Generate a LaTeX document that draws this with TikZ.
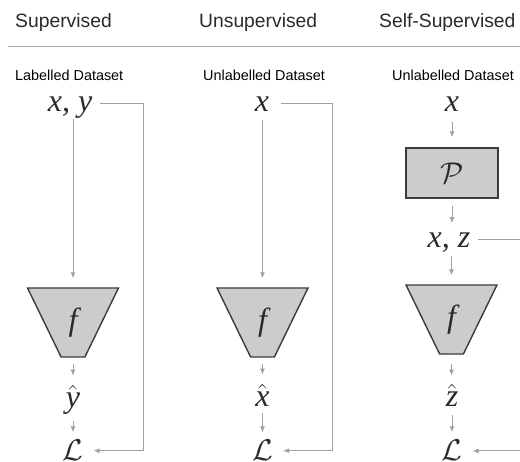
\RequirePackage{fix-cm}
\documentclass[tikz,border=0pt]{standalone}
\usepackage{fontspec}
\usetikzlibrary{shapes.geometric,arrows.meta}
\newfontfamily\headfont{Liberation Sans}
\newfontfamily\varfont{Liberation Serif}
\definecolor{wiregray}{HTML}{A0A0A0}
\definecolor{boxfill}{HTML}{CCCCCC}
\definecolor{boxline}{HTML}{3C3C3C}
\definecolor{inkc}{HTML}{2A2A2A}

\tikzset{
  heading/.style={font=\headfont\fontsize{19.3}{20}\selectfont, text=inkc, anchor=base west, inner sep=0pt},
  subheading/.style={font=\headfont\fontsize{14.4}{15}\selectfont, text=black, anchor=base west, inner sep=0pt},
  var/.style={font=\fontsize{32}{32}\selectfont\varfont\itshape, text=inkc, anchor=base, inner sep=0pt},
  loss/.style={font=\fontsize{30}{30}\selectfont, text=inkc, anchor=base, inner sep=0pt},
  net/.style={trapezium, trapezium stretches=true,
    trapezium left angle=113.15, trapezium right angle=113.15,
    minimum width=91pt, minimum height=69pt, inner sep=0pt,
    fill=boxfill, draw=boxline, line width=1.4pt,
    font=\fontsize{32}{32}\selectfont\varfont\itshape, text=inkc},
  augment/.style={rectangle, minimum width=92pt, minimum height=50pt, inner sep=0pt,
    fill=boxfill, draw=boxline, line width=1.4pt,
    font=\fontsize{30}{30}\selectfont, text=inkc},
  wire/.style={draw=wiregray, line width=1pt},
  arr/.style={wire, -{Latex[length=6pt,width=5pt]}},
}

\begin{document}
\begin{tikzpicture}[x=1pt, y=-1pt]
  \useasboundingbox (0,0) rectangle (520,462);

  % column headings and rule
  \node[heading] (h1) at (15,28) {Supervised};
  \node[heading] (h2) at (199,28) {Unsupervised};
  \node[heading] (h3) at (379,28) {Self-Supervised};
  \draw[draw=black!32, line width=1.4pt] (8,46.5) -- (520,46.5);

  \node[subheading] (d1) at (15,81) {Labelled Dataset};
  \node[subheading] (d2) at (203,81) {Unlabelled Dataset};
  \node[subheading] (d3) at (392,81) {Unlabelled Dataset};

  % ---------- supervised ----------
  \node[var] (xy1) at (70,112) {x, y};
  \node[net] (f1) at (73,322.5) {f};
  \node[var] (yh) at (73,408) {$\hat{\hbox{\varfont\itshape y}}$};
  \node[loss] (L1) at (73,461) {$\mathcal{L}$};
  \coordinate (c1) at (143,104);

  \draw[arr, shorten >=9pt] (xy1.south -| f1.north) -- (f1.north);
  \draw[arr, shorten <=6pt, shorten >=9pt] (f1.south) -- (yh.north -| f1.south);
  \draw[arr, shorten <=6pt, shorten >=8pt] (yh.south -| L1.north) -- (L1.north);
  \draw[arr, shorten <=8pt, shorten >=10pt] (xy1.east |- c1) -- (c1) -- (c1 |- L1.east) -- (L1.east);

  % ---------- unsupervised ----------
  \node[var] (x2) at (262,112) {x};
  \node[net] (f2) at (262.5,322.5) {f};
  \node[var] (xh) at (262.5,407) {$\hat{\hbox{\varfont\itshape x}}$};
  \node[loss] (L2) at (262.5,461) {$\mathcal{L}$};
  \coordinate (c2) at (332,104);

  \draw[arr, shorten <=8pt, shorten >=9pt] (x2.south -| f2.north) -- (f2.north);
  \draw[arr, shorten <=6pt, shorten >=9pt] (f2.south) -- (xh.north -| f2.south);
  \draw[arr, shorten <=6pt, shorten >=8pt] (xh.south -| L2.north) -- (L2.north);
  \draw[arr, shorten <=12pt, shorten >=10pt] (x2.east |- c2) -- (c2) -- (c2 |- L2.east) -- (L2.east);

  % ---------- self-supervised ----------
  \node[var] (x3) at (452,112) {x};
  \node[augment] (P) at (452,173) {$\mathcal{P}$};
  \node[var] (xz) at (449,248) {x, z};
  \node[net] (f3) at (451.5,319.5) {f};
  \node[var] (zh) at (452,407) {$\hat{\hbox{\varfont\itshape z}}$};
  \node[loss] (L3) at (452,461) {$\mathcal{L}$};
  \coordinate (e1) at (520,240);
  \coordinate (e2) at (520,451);

  \draw[arr, shorten <=10pt, shorten >=10pt] (x3.south -| P.north) -- (P.north);
  \draw[arr, shorten <=7pt, shorten >=10pt] (P.south) -- (xz.north -| P.south);
  \draw[arr, shorten <=3pt, shorten >=9pt] (xz.south -| f3.north) -- (f3.north);
  \draw[arr, shorten <=9pt, shorten >=8pt] (f3.south) -- (zh.north -| f3.south);
  \draw[arr, shorten <=8pt, shorten >=8pt] (zh.south -| L3.north) -- (L3.north);
  \draw[wire, shorten <=7pt] (xz.east |- e1) -- (e1);
  \draw[arr, shorten >=10pt] (e2) -- (L3.east |- e2);
\end{tikzpicture}
\end{document}
